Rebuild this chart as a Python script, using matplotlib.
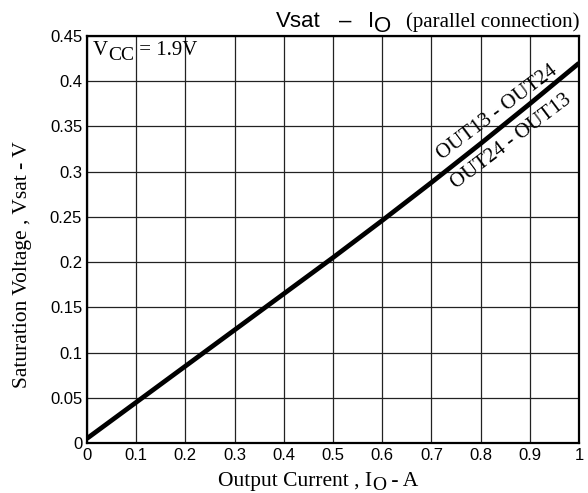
import matplotlib
matplotlib.use("Agg")
import matplotlib.pyplot as plt

# 出力電流と飽和電圧
current = [0.0, 0.1, 0.2, 0.3, 0.4, 0.5, 0.6, 0.7, 0.8, 0.9, 1.0]
vsat = [0.005, 0.045, 0.085, 0.125, 0.165, 0.205, 0.246, 0.288, 0.331, 0.375, 0.42]

x_ticks = [0, 0.1, 0.2, 0.3, 0.4, 0.5, 0.6, 0.7, 0.8, 0.9, 1]
x_labels = ["0", "0.1", "0.2", "0.3", "0.4", "0.5", "0.6", "0.7", "0.8", "0.9", "1"]
y_ticks = [0, 0.05, 0.1, 0.15, 0.2, 0.25, 0.3, 0.35, 0.4, 0.45]
y_labels = ["0", "0.05", "0.1", "0.15", "0.2", "0.25", "0.3", "0.35", "0.4", "0.45"]

W, H = 588, 493
fig = plt.figure(figsize=(W / 100, H / 100), dpi=100)
ax = fig.add_axes([87 / W, 1 - 443 / H, 492 / W, 407 / H])

ax.plot(current, vsat, color="black", lw=3.4, solid_capstyle="butt")
ax.set_xlim(0, 1)
ax.set_ylim(0, 0.45)
ax.set_xticks(x_ticks)
ax.set_xticklabels(x_labels, family="Liberation Sans", fontsize=12)
ax.set_yticks(y_ticks)
ax.set_yticklabels(y_labels, family="Liberation Sans", fontsize=12)
ax.tick_params(length=0, pad=3.5)
ax.grid(True, color="#222222", lw=0.9)
for s in ax.spines.values():
    s.set_linewidth(1.6)

renderer = fig.canvas.get_renderer()


# 文字を左から順に並べる (x, y はピクセル、上から)
def chain(parts, x, y):
    for txt, size, fam, dy in parts:
        t = fig.text(x / W, 1 - (y + dy) / H, txt, family=fam, fontsize=size,
                     ha="left", va="baseline")
        x += t.get_window_extent(renderer).width


# 軸ラベル
chain([("Output Current , I", 15.5, "Liberation Serif", 0),
       ("O", 14, "Liberation Serif", 3.5),
       (" - A", 15.5, "Liberation Serif", 0)], 218, 486)
fig.text(23 / W, 1 - 265 / H, "Saturation Voltage , Vsat - V", family="Liberation Serif",
         fontsize=15.5, rotation=90, ha="center", va="center")

# タイトル
chain([("Vsat", 16, "Liberation Sans", 0)], 276, 27)
fig.text(345 / W, 1 - 27 / H, "\u2013", family="Liberation Sans", fontsize=16, ha="center", va="baseline")
chain([("I", 16, "Liberation Sans", 0), ("O", 16, "Liberation Sans", 5)], 368, 27)
fig.text(580 / W, 1 - 27 / H, "(parallel connection)", family="Liberation Serif", fontsize=15,
         ha="right", va="baseline")

# 電源電圧
chain([("V", 15, "Liberation Serif", 0),
       ("CC", 14, "Liberation Serif", 5),
       (" = 1.9V", 15, "Liberation Serif", 0)], 93, 55)

ax.text(0.835, 0.365, "OUT13 - OUT24", family="Liberation Serif", fontsize=15, rotation=37,
        ha="center", va="center", rotation_mode="anchor")
ax.text(0.862, 0.333, "OUT24 - OUT13", family="Liberation Serif", fontsize=15, rotation=37,
        ha="center", va="center", rotation_mode="anchor")

fig.savefig("out.png", dpi=100)
